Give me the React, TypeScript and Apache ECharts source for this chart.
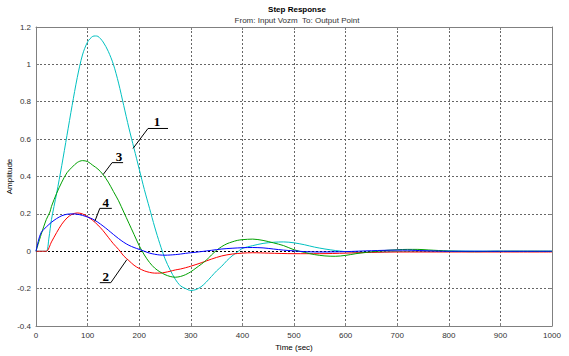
import React, { useEffect, useRef } from "react";
import * as echarts from "echarts";

// Time axis ticks
const xTicks = { min: 0, max: 1000, interval: 100 };
const yTicks = { min: -0.4, max: 1.2, interval: 0.2 };

// Curve 1 (cyan)
const t1 = [0,10,20,25,30,40,50,60,70,80,90,100,110,115,120,130,140,150,160,170,180,190,200,210,220,230,240,250,260,270,280,290,300,310,320,330,340,350,360,370,380,390,400,420,440,460,480,500,520,540,560,580,600,620,640,660,680,700,750,800,900,1000];
const y1 = [0,0,0,0.07,0.17,0.31,0.46,0.62,0.78,0.93,1.05,1.12,1.15,1.152,1.15,1.12,1.07,1.0,0.9,0.78,0.66,0.55,0.44,0.33,0.23,0.13,0.04,-0.04,-0.1,-0.15,-0.185,-0.2,-0.21,-0.205,-0.19,-0.165,-0.135,-0.105,-0.08,-0.05,-0.025,-0.005,0.015,0.03,0.042,0.048,0.05,0.045,0.035,0.022,0.012,0.004,-0.002,-0.005,-0.006,-0.005,-0.003,-0.001,0.001,0.001,0,0];

// Curve 2 (red)
const t2 = [0,10,20,30,40,50,60,70,80,90,100,110,120,130,140,150,160,170,180,190,200,210,220,230,240,250,260,270,280,290,300,320,340,360,380,400,420,450,500,550,600,650,700,800,900,1000];
const y2 = [0,0,0,0.05,0.1,0.145,0.178,0.198,0.205,0.2,0.185,0.165,0.14,0.11,0.075,0.04,0.01,-0.025,-0.05,-0.075,-0.092,-0.105,-0.113,-0.117,-0.117,-0.113,-0.107,-0.1,-0.095,-0.088,-0.08,-0.062,-0.042,-0.025,-0.015,-0.01,-0.008,-0.01,-0.013,-0.013,-0.01,-0.006,-0.004,-0.004,-0.004,-0.004];

// Curve 3 (green)
const t3 = [0,10,20,27,30,40,50,60,70,80,90,100,110,120,130,140,150,160,170,180,190,200,210,220,230,240,250,260,270,280,290,300,310,320,330,340,350,360,370,380,390,400,420,440,460,480,500,520,540,560,580,600,620,640,660,680,700,720,740,760,780,800,850,900,1000];
const y3 = [0,0.09,0.17,0.21,0.24,0.31,0.37,0.42,0.45,0.475,0.485,0.48,0.46,0.44,0.41,0.37,0.32,0.27,0.21,0.15,0.09,0.03,-0.02,-0.06,-0.09,-0.11,-0.125,-0.135,-0.139,-0.135,-0.125,-0.11,-0.09,-0.07,-0.048,-0.02,0.005,0.025,0.04,0.05,0.058,0.062,0.065,0.058,0.045,0.03,0.008,-0.006,-0.018,-0.025,-0.027,-0.022,-0.013,-0.006,0,0.005,0.008,0.01,0.01,0.007,0.004,0.001,-0.002,0,0];

// Curve 4 (blue)
const t4 = [0,5,10,20,30,40,50,60,70,80,90,100,110,120,130,140,150,160,170,180,190,200,210,220,230,240,250,260,270,280,290,300,320,340,360,380,400,420,440,460,480,500,520,550,600,650,700,720,750,800,1000];
const y4 = [0,0.06,0.1,0.13,0.155,0.175,0.19,0.198,0.2,0.198,0.192,0.183,0.172,0.155,0.135,0.113,0.09,0.068,0.048,0.032,0.02,0.01,0,-0.01,-0.016,-0.02,-0.021,-0.02,-0.018,-0.015,-0.011,-0.008,-0.002,0.005,0.012,0.016,0.019,0.02,0.018,0.012,0.006,0.002,-0.002,-0.004,-0.002,0.003,0.006,0.006,0.003,0,0];

const seriesNames = ["1", "2", "3", "4"];
const seriesColors = ["#00c0c0", "#ff0000", "#00a000", "#0000ff"];

// Annotation anchors (data coords of the pointer tip) and label
const annLabels = ["1", "3", "4", "2"];
const annTipT = [188, 130, 114, 176];
const annTipY = [0.55, 0.41, 0.16, -0.045];

const FONT = 'Arial, "Liberation Sans", sans-serif';

export default function App() {
  const ref = useRef<HTMLDivElement>(null);
  useEffect(() => {
    if (!ref.current) return;
    const chart = echarts.init(ref.current, undefined, { renderer: "svg" });
    const mk = (t: number[], y: number[]) => t.map((v, i) => [v, y[i]]);
    const datas = [mk(t1, y1), mk(t2, y2), mk(t3, y3), mk(t4, y4)];
    const gridColor = "#666";
    const axisColor = "#808080";
    chart.setOption({
      animation: false,
      backgroundColor: "#fff",
      textStyle: { fontFamily: FONT },
      title: [
        { text: "Step Response", left: 292, top: 0, textAlign: "center", textStyle: { fontSize: 8, fontWeight: "bold", color: "#000", fontFamily: FONT } },
        { text: "From: Input Vozm  To: Output Point", left: 292, top: 11, textAlign: "center", textStyle: { fontSize: 8, fontWeight: "normal", color: "#333", fontFamily: FONT } },
      ],
      grid: { left: 36, right: 17, top: 27, bottom: 30, containLabel: false, outerBoundsMode: "none" },
      xAxis: [
        {
          type: "value", ...xTicks, position: "bottom",
          name: "Time (sec)", nameLocation: "middle", nameGap: 17,
          nameTextStyle: { fontSize: 8, color: "#000", fontFamily: FONT },
          axisLine: { show: true, onZero: false, lineStyle: { color: axisColor } },
          axisTick: { show: true, inside: true, length: 3, lineStyle: { color: axisColor } },
          axisLabel: { fontSize: 8, color: "#333", margin: 5, fontFamily: FONT, formatter: (v: number) => String(v) },
          splitLine: { show: true, lineStyle: { color: gridColor, type: [2, 2], width: 1 } },
        },
        {
          type: "value", ...xTicks, position: "top",
          axisLine: { show: true, onZero: false, lineStyle: { color: axisColor } },
          axisTick: { show: true, inside: true, length: 3, lineStyle: { color: axisColor } },
          axisLabel: { show: false },
          splitLine: { show: false },
        },
      ],
      yAxis: [
        {
          type: "value", ...yTicks, position: "left",
          axisLine: { show: true, onZero: false, lineStyle: { color: axisColor } },
          axisTick: { show: true, inside: true, length: 3, lineStyle: { color: axisColor } },
          axisLabel: { fontSize: 8, color: "#333", margin: 5, fontFamily: FONT, formatter: (v: number) => String(Math.round(v * 10) / 10) },
          splitLine: { show: true, lineStyle: { color: gridColor, type: [2, 2], width: 1 } },
        },
        {
          type: "value", ...yTicks, position: "right",
          axisLine: { show: true, onZero: false, lineStyle: { color: axisColor } },
          axisTick: { show: true, inside: true, length: 3, lineStyle: { color: axisColor } },
          axisLabel: { show: false },
          splitLine: { show: false },
        },
      ],
      series: datas.map((d, i) => ({
        name: seriesNames[i],
        type: "line",
        xAxisIndex: 0,
        yAxisIndex: 0,
        data: d,
        showSymbol: false,
        smooth: 0.3,
        lineStyle: { color: seriesColors[i], width: 1 },
        z: 3,
        markLine: i === 0 ? {
          silent: true, symbol: "none", label: { show: false },
          lineStyle: { color: "#000", type: [2, 2], width: 1 },
          data: [{ yAxis: 0 }],
          z: 2,
        } : undefined,
      })),
    });

    // y-axis title and annotations anchored to data coordinates
    const graphics: any[] = [];
    const mid = chart.convertToPixel({ xAxisIndex: 0, yAxisIndex: 0 }, [0, 0.4]) as number[];
    graphics.push({ type: "text", silent: true, x: 9, y: mid[1], rotation: Math.PI / 2, style: { text: "Amplitude", fontSize: 8, fontFamily: FONT, fill: "#000", align: "center", verticalAlign: "middle" } });
    const textStyle = (s: string) => ({ text: s, fontSize: 13, fontWeight: "bold", fontFamily: '"Times New Roman", "Liberation Serif", serif', fill: "#000", align: "center", verticalAlign: "middle" });
    annLabels.forEach((lab, i) => {
      const p = chart.convertToPixel({ xAxisIndex: 0, yAxisIndex: 0 }, [annTipT[i], annTipY[i]]) as number[];
      const [x, y] = p;
      let elbow: number[], uEnd: number[], txt: number[];
      if (lab === "1") { elbow = [x + 15, y - 20]; uEnd = [x + 35, y - 20]; txt = [x + 24, y - 27]; }
      else if (lab === "3") { elbow = [x + 9, y - 12]; uEnd = [x + 20, y - 12]; txt = [x + 16, y - 18]; }
      else if (lab === "4") { elbow = [x + 5, y - 13]; uEnd = [x + 17, y - 13]; txt = [x + 11, y - 19]; }
      else { elbow = [x - 16, y + 23]; uEnd = [x - 27, y + 23]; txt = [x - 21, y + 17]; }
      graphics.push({ type: "line", silent: true, shape: { x1: x, y1: y, x2: elbow[0], y2: elbow[1] }, style: { stroke: "#000", lineWidth: 1 }, z: 10 });
      graphics.push({ type: "line", silent: true, shape: { x1: elbow[0], y1: elbow[1], x2: uEnd[0], y2: uEnd[1] }, style: { stroke: "#000", lineWidth: 1 }, z: 10 });
      graphics.push({ type: "text", silent: true, x: txt[0], y: txt[1], style: textStyle(lab), z: 10 });
    });
    chart.setOption({ graphic: graphics });

    return () => chart.dispose();
  }, []);
  return <div ref={ref} style={{ position: "fixed", left: 0, top: 0, width: 569, height: 356 }} />;
}
